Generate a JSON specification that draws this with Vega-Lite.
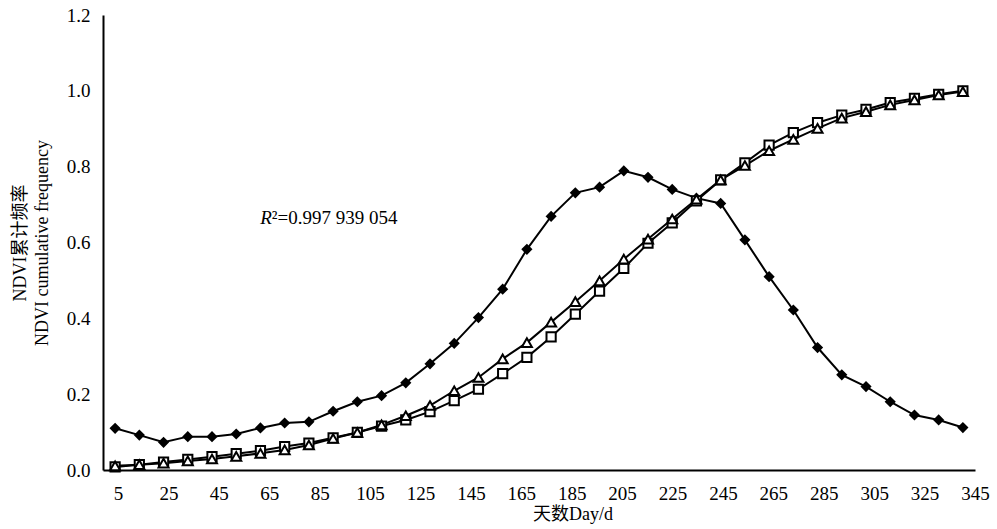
{
  "$schema": "https://vega.github.io/schema/vega-lite/v6.json",
  "width": 872,
  "height": 455,
  "autosize": {"type": "none"},
  "padding": {"left": 103, "top": 15, "right": 22, "bottom": 59},
  "background": "white",
  "config": {
    "view": {"stroke": null},
    "font": "Liberation Serif",
    "axis": {
      "grid": false,
      "domainColor": "black",
      "domainWidth": 2,
      "labelColor": "black",
      "labelFont": "Liberation Serif",
      "labelFontSize": 19,
      "titleFont": "Liberation Serif, Noto Sans CJK SC",
      "titleFontSize": 18,
      "titleFontWeight": "normal",
      "titleColor": "black"
    }
  },
  "resolve": {"scale": {"x": "independent"}},
  "layer": [
    {
      "encoding": {
        "x": {
          "field": "day",
          "type": "quantitative",
          "scale": {"domain": [0, 360], "nice": false, "zero": false},
          "axis": {"orient": "bottom", "labels": false, "ticks": false, "domain": true, "title": null}
        },
        "y": {
          "field": "value",
          "type": "quantitative",
          "scale": {"domain": [0, 1.2], "nice": false, "zero": false},
          "axis": {
            "values": [0, 0.2, 0.4, 0.6, 0.8, 1.0, 1.2],
            "format": ".1f",
            "ticks": false,
            "labelPadding": 13,
            "title": ["NDVI累计频率", "NDVI cumulative frequency"],
            "titleAngle": -90,
            "titleAlign": "center",
            "titleBaseline": "middle",
            "titleX": -83,
            "titleY": 227.5,
            "titleLineHeight": 22
          }
        }
      },
      "layer": [
        {
          "data": {
            "values": [
              {"day": 5, "series": "NDVI", "value": 0.110}, {"day": 15, "series": "NDVI", "value": 0.092}, {"day": 25, "series": "NDVI", "value": 0.073}, {"day": 35, "series": "NDVI", "value": 0.088}, {"day": 45, "series": "NDVI", "value": 0.088}, {"day": 55, "series": "NDVI", "value": 0.095}, {"day": 65, "series": "NDVI", "value": 0.111}, {"day": 75, "series": "NDVI", "value": 0.124}, {"day": 85, "series": "NDVI", "value": 0.127}, {"day": 95, "series": "NDVI", "value": 0.155}, {"day": 105, "series": "NDVI", "value": 0.180}, {"day": 115, "series": "NDVI", "value": 0.196}, {"day": 125, "series": "NDVI", "value": 0.230}, {"day": 135, "series": "NDVI", "value": 0.280}, {"day": 145, "series": "NDVI", "value": 0.334}, {"day": 155, "series": "NDVI", "value": 0.402}, {"day": 165, "series": "NDVI", "value": 0.477}, {"day": 175, "series": "NDVI", "value": 0.582}, {"day": 185, "series": "NDVI", "value": 0.669}, {"day": 195, "series": "NDVI", "value": 0.731}, {"day": 205, "series": "NDVI", "value": 0.746}, {"day": 215, "series": "NDVI", "value": 0.789}, {"day": 225, "series": "NDVI", "value": 0.772}, {"day": 235, "series": "NDVI", "value": 0.740}, {"day": 245, "series": "NDVI", "value": 0.717}, {"day": 255, "series": "NDVI", "value": 0.703}, {"day": 265, "series": "NDVI", "value": 0.607}, {"day": 275, "series": "NDVI", "value": 0.510}, {"day": 285, "series": "NDVI", "value": 0.422}, {"day": 295, "series": "NDVI", "value": 0.323}, {"day": 305, "series": "NDVI", "value": 0.251}, {"day": 315, "series": "NDVI", "value": 0.220}, {"day": 325, "series": "NDVI", "value": 0.180}, {"day": 335, "series": "NDVI", "value": 0.145}, {"day": 345, "series": "NDVI", "value": 0.132}, {"day": 355, "series": "NDVI", "value": 0.112},
              {"day": 5, "series": "NDVI累积分布函数", "value": 0.008}, {"day": 15, "series": "NDVI累积分布函数", "value": 0.014}, {"day": 25, "series": "NDVI累积分布函数", "value": 0.021}, {"day": 35, "series": "NDVI累积分布函数", "value": 0.028}, {"day": 45, "series": "NDVI累积分布函数", "value": 0.035}, {"day": 55, "series": "NDVI累积分布函数", "value": 0.043}, {"day": 65, "series": "NDVI累积分布函数", "value": 0.051}, {"day": 75, "series": "NDVI累积分布函数", "value": 0.062}, {"day": 85, "series": "NDVI累积分布函数", "value": 0.071}, {"day": 95, "series": "NDVI累积分布函数", "value": 0.085}, {"day": 105, "series": "NDVI累积分布函数", "value": 0.099}, {"day": 115, "series": "NDVI累积分布函数", "value": 0.116}, {"day": 125, "series": "NDVI累积分布函数", "value": 0.132}, {"day": 135, "series": "NDVI累积分布函数", "value": 0.154}, {"day": 145, "series": "NDVI累积分布函数", "value": 0.183}, {"day": 155, "series": "NDVI累积分布函数", "value": 0.213}, {"day": 165, "series": "NDVI累积分布函数", "value": 0.254}, {"day": 175, "series": "NDVI累积分布函数", "value": 0.297}, {"day": 185, "series": "NDVI累积分布函数", "value": 0.351}, {"day": 195, "series": "NDVI累积分布函数", "value": 0.411}, {"day": 205, "series": "NDVI累积分布函数", "value": 0.472}, {"day": 215, "series": "NDVI累积分布函数", "value": 0.532}, {"day": 225, "series": "NDVI累积分布函数", "value": 0.598}, {"day": 235, "series": "NDVI累积分布函数", "value": 0.652}, {"day": 245, "series": "NDVI累积分布函数", "value": 0.710}, {"day": 255, "series": "NDVI累积分布函数", "value": 0.765}, {"day": 265, "series": "NDVI累积分布函数", "value": 0.810}, {"day": 275, "series": "NDVI累积分布函数", "value": 0.857}, {"day": 285, "series": "NDVI累积分布函数", "value": 0.890}, {"day": 295, "series": "NDVI累积分布函数", "value": 0.916}, {"day": 305, "series": "NDVI累积分布函数", "value": 0.936}, {"day": 315, "series": "NDVI累积分布函数", "value": 0.951}, {"day": 325, "series": "NDVI累积分布函数", "value": 0.969}, {"day": 335, "series": "NDVI累积分布函数", "value": 0.980}, {"day": 345, "series": "NDVI累积分布函数", "value": 0.991}, {"day": 355, "series": "NDVI累积分布函数", "value": 1.000},
              {"day": 5, "series": "拟合值", "value": 0.011}, {"day": 15, "series": "拟合值", "value": 0.014}, {"day": 25, "series": "拟合值", "value": 0.018}, {"day": 35, "series": "拟合值", "value": 0.024}, {"day": 45, "series": "拟合值", "value": 0.029}, {"day": 55, "series": "拟合值", "value": 0.036}, {"day": 65, "series": "拟合值", "value": 0.044}, {"day": 75, "series": "拟合值", "value": 0.053}, {"day": 85, "series": "拟合值", "value": 0.066}, {"day": 95, "series": "拟合值", "value": 0.083}, {"day": 105, "series": "拟合值", "value": 0.099}, {"day": 115, "series": "拟合值", "value": 0.119}, {"day": 125, "series": "拟合值", "value": 0.143}, {"day": 135, "series": "拟合值", "value": 0.170}, {"day": 145, "series": "拟合值", "value": 0.209}, {"day": 155, "series": "拟合值", "value": 0.244}, {"day": 165, "series": "拟合值", "value": 0.293}, {"day": 175, "series": "拟合值", "value": 0.336}, {"day": 185, "series": "拟合值", "value": 0.390}, {"day": 195, "series": "拟合值", "value": 0.444}, {"day": 205, "series": "拟合值", "value": 0.499}, {"day": 215, "series": "拟合值", "value": 0.556}, {"day": 225, "series": "拟合值", "value": 0.609}, {"day": 235, "series": "拟合值", "value": 0.662}, {"day": 245, "series": "拟合值", "value": 0.714}, {"day": 255, "series": "拟合值", "value": 0.765}, {"day": 265, "series": "拟合值", "value": 0.803}, {"day": 275, "series": "拟合值", "value": 0.842}, {"day": 285, "series": "拟合值", "value": 0.872}, {"day": 295, "series": "拟合值", "value": 0.901}, {"day": 305, "series": "拟合值", "value": 0.928}, {"day": 315, "series": "拟合值", "value": 0.945}, {"day": 325, "series": "拟合值", "value": 0.963}, {"day": 335, "series": "拟合值", "value": 0.976}, {"day": 345, "series": "拟合值", "value": 0.989}, {"day": 355, "series": "拟合值", "value": 0.998}
            ]
          },
          "layer": [
            {
              "mark": {"type": "line", "color": "black", "strokeWidth": 2},
              "encoding": {"detail": {"field": "series", "type": "nominal"}}
            },
            {
              "mark": {"type": "point", "stroke": "black", "strokeWidth": 2, "opacity": 1, "filled": false},
              "encoding": {
                "fill": {"field": "series", "type": "nominal", "scale": {"domain": ["NDVI", "NDVI累积分布函数", "拟合值"], "range": ["black", "white", "white"]}, "legend": null},
                "size": {"field": "series", "type": "nominal", "scale": {"domain": ["NDVI", "NDVI累积分布函数", "拟合值"], "range": [70, 100, 110]}, "legend": null},
                "shape": {"field": "series", "type": "nominal", "scale": {"domain": ["NDVI", "NDVI累积分布函数", "拟合值"], "range": ["diamond", "square", "triangle-up"]}, "legend": null}
              }
            }
          ]
        },
        {
          "data": {"values": [{"tick": 10}, {"tick": 20}, {"tick": 30}, {"tick": 40}, {"tick": 50}, {"tick": 60}, {"tick": 70}, {"tick": 80}, {"tick": 90}, {"tick": 100}, {"tick": 110}, {"tick": 120}, {"tick": 130}, {"tick": 140}, {"tick": 150}, {"tick": 160}, {"tick": 170}, {"tick": 180}, {"tick": 190}, {"tick": 200}, {"tick": 210}, {"tick": 220}, {"tick": 230}, {"tick": 240}, {"tick": 250}, {"tick": 260}, {"tick": 270}, {"tick": 280}, {"tick": 290}, {"tick": 300}, {"tick": 310}, {"tick": 320}, {"tick": 330}, {"tick": 340}, {"tick": 350}]},
          "mark": {"type": "tick", "orient": "vertical", "size": 6, "thickness": 2, "color": "black", "opacity": 1, "yOffset": -3},
          "encoding": {
            "x": {"field": "tick", "type": "quantitative"},
            "y": {"datum": 0}
          }
        },
        {
          "data": {"values": [{"tick": 0.2}, {"tick": 0.4}, {"tick": 0.6}, {"tick": 0.8}, {"tick": 1.0}, {"tick": 1.2}]},
          "mark": {"type": "tick", "orient": "horizontal", "size": 6, "thickness": 2, "color": "black", "opacity": 1, "xOffset": 3},
          "encoding": {
            "x": {"datum": 0},
            "y": {"field": "tick", "type": "quantitative"}
          }
        },
        {
          "data": {"values": [{"series": "NDVI", "label": "NDVI"}]},
          "layer": [
            {
              "mark": {"type": "rule", "color": "black", "strokeWidth": 2},
              "encoding": {"x": {"datum": 22.8}, "x2": {"datum": 38.7}, "y": {"datum": 1.168}}
            },
            {
              "mark": {"type": "point", "stroke": "black", "strokeWidth": 2, "opacity": 1, "filled": false},
              "encoding": {"x": {"datum": 30.8}, "y": {"datum": 1.168}, "shape": {"field": "series", "type": "nominal"}, "fill": {"field": "series", "type": "nominal"}, "size": {"value": 110}}
            },
            {
              "mark": {"type": "text", "align": "left", "baseline": "alphabetic", "font": "Liberation Serif, Noto Sans CJK SC", "fontSize": 18, "color": "black"},
              "encoding": {"x": {"datum": 42.1}, "y": {"datum": 1.149}, "text": {"field": "label"}}
            }
          ]
        },
        {
          "data": {"values": [{"series": "NDVI累积分布函数", "label": "NDVI累积分布函数", "label2": "NDVI\u00a0 Cumulative distribution function"}]},
          "layer": [
            {
              "mark": {"type": "rule", "color": "black", "strokeWidth": 2},
              "encoding": {"x": {"datum": 78.4}, "x2": {"datum": 94.4}, "y": {"datum": 1.168}}
            },
            {
              "mark": {"type": "point", "stroke": "black", "strokeWidth": 2, "opacity": 1, "filled": false},
              "encoding": {"x": {"datum": 86.4}, "y": {"datum": 1.168}, "shape": {"field": "series", "type": "nominal"}, "fill": {"field": "series", "type": "nominal"}, "size": {"value": 150}}
            },
            {
              "mark": {"type": "text", "align": "left", "baseline": "alphabetic", "font": "Liberation Serif, Noto Sans CJK SC", "fontSize": 18, "color": "black"},
              "encoding": {"x": {"datum": 98.6}, "y": {"datum": 1.151}, "text": {"field": "label"}}
            },
            {
              "mark": {"type": "text", "align": "left", "baseline": "alphabetic", "font": "Liberation Serif, Noto Sans CJK SC", "fontSize": 18, "color": "black"},
              "encoding": {"x": {"datum": 98.6}, "y": {"datum": 1.099}, "text": {"field": "label2"}}
            }
          ]
        },
        {
          "data": {"values": [{"series": "拟合值", "label": "拟合值\u00a0 Fitting value"}]},
          "layer": [
            {
              "mark": {"type": "rule", "color": "black", "strokeWidth": 2},
              "encoding": {"x": {"datum": 239.6}, "x2": {"datum": 255.4}, "y": {"datum": 1.168}}
            },
            {
              "mark": {"type": "point", "stroke": "black", "strokeWidth": 2, "opacity": 1, "filled": false},
              "encoding": {"x": {"datum": 247.5}, "y": {"datum": 1.168}, "shape": {"field": "series", "type": "nominal"}, "fill": {"field": "series", "type": "nominal"}, "size": {"value": 160}}
            },
            {
              "mark": {"type": "text", "align": "left", "baseline": "alphabetic", "font": "Liberation Serif, Noto Sans CJK SC", "fontSize": 18, "color": "black"},
              "encoding": {"x": {"datum": 258.2}, "y": {"datum": 1.149}, "text": {"field": "label"}}
            }
          ]
        }
      ]
    },
    {
      "data": {"values": [{"pos": 66, "value": 0.649, "a": "R", "b": "²=0.997 939 054"}]},
      "encoding": {
        "x": {
          "field": "pos",
          "type": "quantitative",
          "scale": {"domain": [-0.95, 345], "nice": false, "zero": false},
          "axis": {
            "orient": "bottom",
            "values": [5, 25, 45, 65, 85, 105, 125, 145, 165, 185, 205, 225, 245, 265, 285, 305, 325, 345],
            "ticks": false,
            "domain": false,
            "labelPadding": 14,
            "labelOverlap": false,
            "labelFlush": false,
            "title": "天数Day/d",
            "titleX": 469.5,
            "titleY": 44,
            "titleAlign": "center",
            "titleBaseline": "middle",
            "titleAnchor": null
          }
        },
        "y": {"field": "value", "type": "quantitative"}
      },
      "layer": [
        {
          "mark": {"type": "text", "align": "right", "baseline": "alphabetic", "font": "Liberation Serif", "fontStyle": "italic", "fontSize": 19, "color": "black"},
          "encoding": {"text": {"field": "a"}}
        },
        {
          "mark": {"type": "text", "align": "left", "baseline": "alphabetic", "font": "Liberation Serif", "fontSize": 19, "color": "black"},
          "encoding": {"text": {"field": "b"}}
        }
      ]
    }
  ]
}
